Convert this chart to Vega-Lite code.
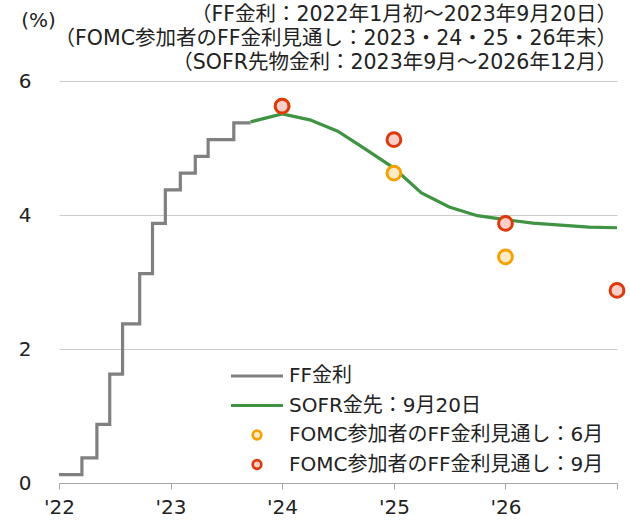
{
  "$schema": "https://vega.github.io/schema/vega-lite/v6.json",
  "autosize": {"type": "none"},
  "padding": {"left": 59, "top": 81, "right": 13, "bottom": 40},
  "width": 558,
  "height": 402,
  "background": "white",
  "config": {
    "font": "DejaVu Sans, Noto Sans CJK JP",
    "view": {"stroke": null},
    "axis": {"labelColor": "#222222", "titleColor": "#222222", "labelFont": "DejaVu Sans, Noto Sans CJK JP", "titleFont": "DejaVu Sans, Noto Sans CJK JP"},
    "legend": {"labelFont": "DejaVu Sans, Noto Sans CJK JP"}
  },
  "title": {
    "text": ["（FF金利：2022年1月初～2023年9月20日）", "（FOMC参加者のFF金利見通し：2023・24・25・26年末）", "（SOFR先物金利：2023年9月～2026年12月）"],
    "anchor": "end",
    "frame": "group",
    "font": "DejaVu Sans, Noto Sans CJK JP",
    "fontSize": 20.5,
    "fontWeight": "normal",
    "color": "#222222",
    "lineHeight": 24,
    "offset": 8,
    "dy": 71
  },
  "datasets": {
    "ff": [
      {"series": "FF金利", "date": "2022-01-01", "value": 0.125},
      {"series": "FF金利", "date": "2022-03-17", "value": 0.375},
      {"series": "FF金利", "date": "2022-05-05", "value": 0.875},
      {"series": "FF金利", "date": "2022-06-16", "value": 1.625},
      {"series": "FF金利", "date": "2022-07-28", "value": 2.375},
      {"series": "FF金利", "date": "2022-09-22", "value": 3.125},
      {"series": "FF金利", "date": "2022-11-03", "value": 3.875},
      {"series": "FF金利", "date": "2022-12-15", "value": 4.375},
      {"series": "FF金利", "date": "2023-02-02", "value": 4.625},
      {"series": "FF金利", "date": "2023-03-23", "value": 4.875},
      {"series": "FF金利", "date": "2023-05-04", "value": 5.125},
      {"series": "FF金利", "date": "2023-07-27", "value": 5.375},
      {"series": "FF金利", "date": "2023-09-20", "value": 5.375}
    ],
    "sofr": [
      {"series": "SOFR金先：9月20日", "date": "2023-09-20", "value": 5.39},
      {"series": "SOFR金先：9月20日", "date": "2024-01-01", "value": 5.51},
      {"series": "SOFR金先：9月20日", "date": "2024-04-01", "value": 5.42},
      {"series": "SOFR金先：9月20日", "date": "2024-07-01", "value": 5.25},
      {"series": "SOFR金先：9月20日", "date": "2024-10-01", "value": 4.98},
      {"series": "SOFR金先：9月20日", "date": "2025-01-01", "value": 4.70},
      {"series": "SOFR金先：9月20日", "date": "2025-04-01", "value": 4.33},
      {"series": "SOFR金先：9月20日", "date": "2025-07-01", "value": 4.12},
      {"series": "SOFR金先：9月20日", "date": "2025-10-01", "value": 3.99},
      {"series": "SOFR金先：9月20日", "date": "2026-01-01", "value": 3.93},
      {"series": "SOFR金先：9月20日", "date": "2026-04-01", "value": 3.88},
      {"series": "SOFR金先：9月20日", "date": "2026-07-01", "value": 3.85},
      {"series": "SOFR金先：9月20日", "date": "2026-10-01", "value": 3.82},
      {"series": "SOFR金先：9月20日", "date": "2027-01-01", "value": 3.81}
    ],
    "fomc": [
      {"series": "FOMC参加者のFF金利見通し：6月", "date": "2024-01-01", "value": 5.625},
      {"series": "FOMC参加者のFF金利見通し：6月", "date": "2025-01-01", "value": 4.625},
      {"series": "FOMC参加者のFF金利見通し：6月", "date": "2026-01-01", "value": 3.375},
      {"series": "FOMC参加者のFF金利見通し：9月", "date": "2024-01-01", "value": 5.625},
      {"series": "FOMC参加者のFF金利見通し：9月", "date": "2025-01-01", "value": 5.125},
      {"series": "FOMC参加者のFF金利見通し：9月", "date": "2026-01-01", "value": 3.875},
      {"series": "FOMC参加者のFF金利見通し：9月", "date": "2027-01-01", "value": 2.875}
    ]
  },
  "encoding": {
    "x": {
      "field": "date", "type": "temporal",
      "scale": {"type": "utc", "domain": [{"year": 2022, "month": 1, "date": 1, "utc": true}, {"year": 2027, "month": 1, "date": 1, "utc": true}]},
      "axis": {
        "title": null,
        "values": [{"year": 2022, "utc": true}, {"year": 2023, "utc": true}, {"year": 2024, "utc": true}, {"year": 2025, "utc": true}, {"year": 2026, "utc": true}, {"year": 2027, "utc": true}],
        "labelExpr": "utcyear(datum.value) >= 2027 ? '' : \"'\" + (utcyear(datum.value) - 2000)",
        "grid": false,
        "domainColor": "#A6A6A6",
        "tickColor": "#A6A6A6",
        "tickSize": 6,
        "labelFontSize": 20,
        "labelPadding": 8,
        "labelFlush": false,
        "labelOverlap": false
      }
    },
    "y": {
      "field": "value", "type": "quantitative",
      "scale": {"domain": [0, 6]},
      "axis": {
        "title": "(%)",
        "titleAngle": 0,
        "titleX": -21,
        "titleY": -61,
        "titleAlign": "center",
        "titleBaseline": "middle",
        "titleFontSize": 20,
        "titleFontWeight": "normal",
        "values": [0, 2, 4, 6],
        "domain": false,
        "ticks": false,
        "tickSize": 0,
        "labelPadding": 28,
        "labelFontSize": 20,
        "gridColor": "#CCCCCC",
        "gridWidth": 1
      }
    }
  },
  "layer": [
    {
      "data": {"name": "ff"},
      "mark": {"type": "line", "interpolate": "step-after", "strokeWidth": 3.2, "strokeCap": "butt"},
      "encoding": {
        "color": {
          "field": "series", "type": "nominal",
          "scale": {
            "domain": ["FF金利", "SOFR金先：9月20日", "FOMC参加者のFF金利見通し：6月", "FOMC参加者のFF金利見通し：9月"],
            "range": ["#808080", "#3F9342", "#F5A200", "#DC3A0D"]
          },
          "legend": {
            "title": null,
            "orient": "none",
            "legendX": 172,
            "legendY": 285,
            "padding": 0,
            "symbolSize": 2704,
            "symbolStrokeWidth": 3,
            "labelFontSize": 20,
            "labelColor": "#222222",
            "labelOffset": 5,
            "rowPadding": 9.5,
            "labelLimit": 400,
            "encode": {
              "symbols": {
                "update": {
                  "x": {"value": 26},
                  "shape": {"signal": "indexof(['FF金利','SOFR金先：9月20日'], datum.value) >= 0 ? 'stroke' : 'circle'"},
                  "size": {"signal": "indexof(['FF金利','SOFR金先：9月20日'], datum.value) >= 0 ? 2704 : 75"},
                  "fill": {"signal": "datum.value == 'FOMC参加者のFF金利見通し：6月' ? '#FDEBC8' : datum.value == 'FOMC参加者のFF金利見通し：9月' ? '#F9CFC7' : 'transparent'"},
                  "strokeWidth": {"signal": "indexof(['FF金利','SOFR金先：9月20日'], datum.value) >= 0 ? 3.2 : 2.6"},
                  "opacity": {"value": 1}
                }
              },
              "labels": {
                "update": {
                  "x": {"value": 58}
                }
              }
            }
          }
        }
      }
    },
    {
      "data": {"name": "sofr"},
      "mark": {"type": "line", "strokeWidth": 3.2},
      "encoding": {
        "color": {"field": "series", "type": "nominal"}
      }
    },
    {
      "data": {"name": "fomc"},
      "mark": {"type": "point", "filled": true, "size": 190, "strokeWidth": 3, "opacity": 1},
      "encoding": {
        "stroke": {
          "field": "series", "type": "nominal",
          "scale": {"domain": ["FOMC参加者のFF金利見通し：6月", "FOMC参加者のFF金利見通し：9月"], "range": ["#F5A200", "#DC3A0D"]},
          "legend": null
        },
        "fill": {
          "field": "series", "type": "nominal",
          "scale": {"domain": ["FOMC参加者のFF金利見通し：6月", "FOMC参加者のFF金利見通し：9月"], "range": ["#FDEBC8", "#F9CFC7"]},
          "legend": null
        }
      }
    }
  ]
}
